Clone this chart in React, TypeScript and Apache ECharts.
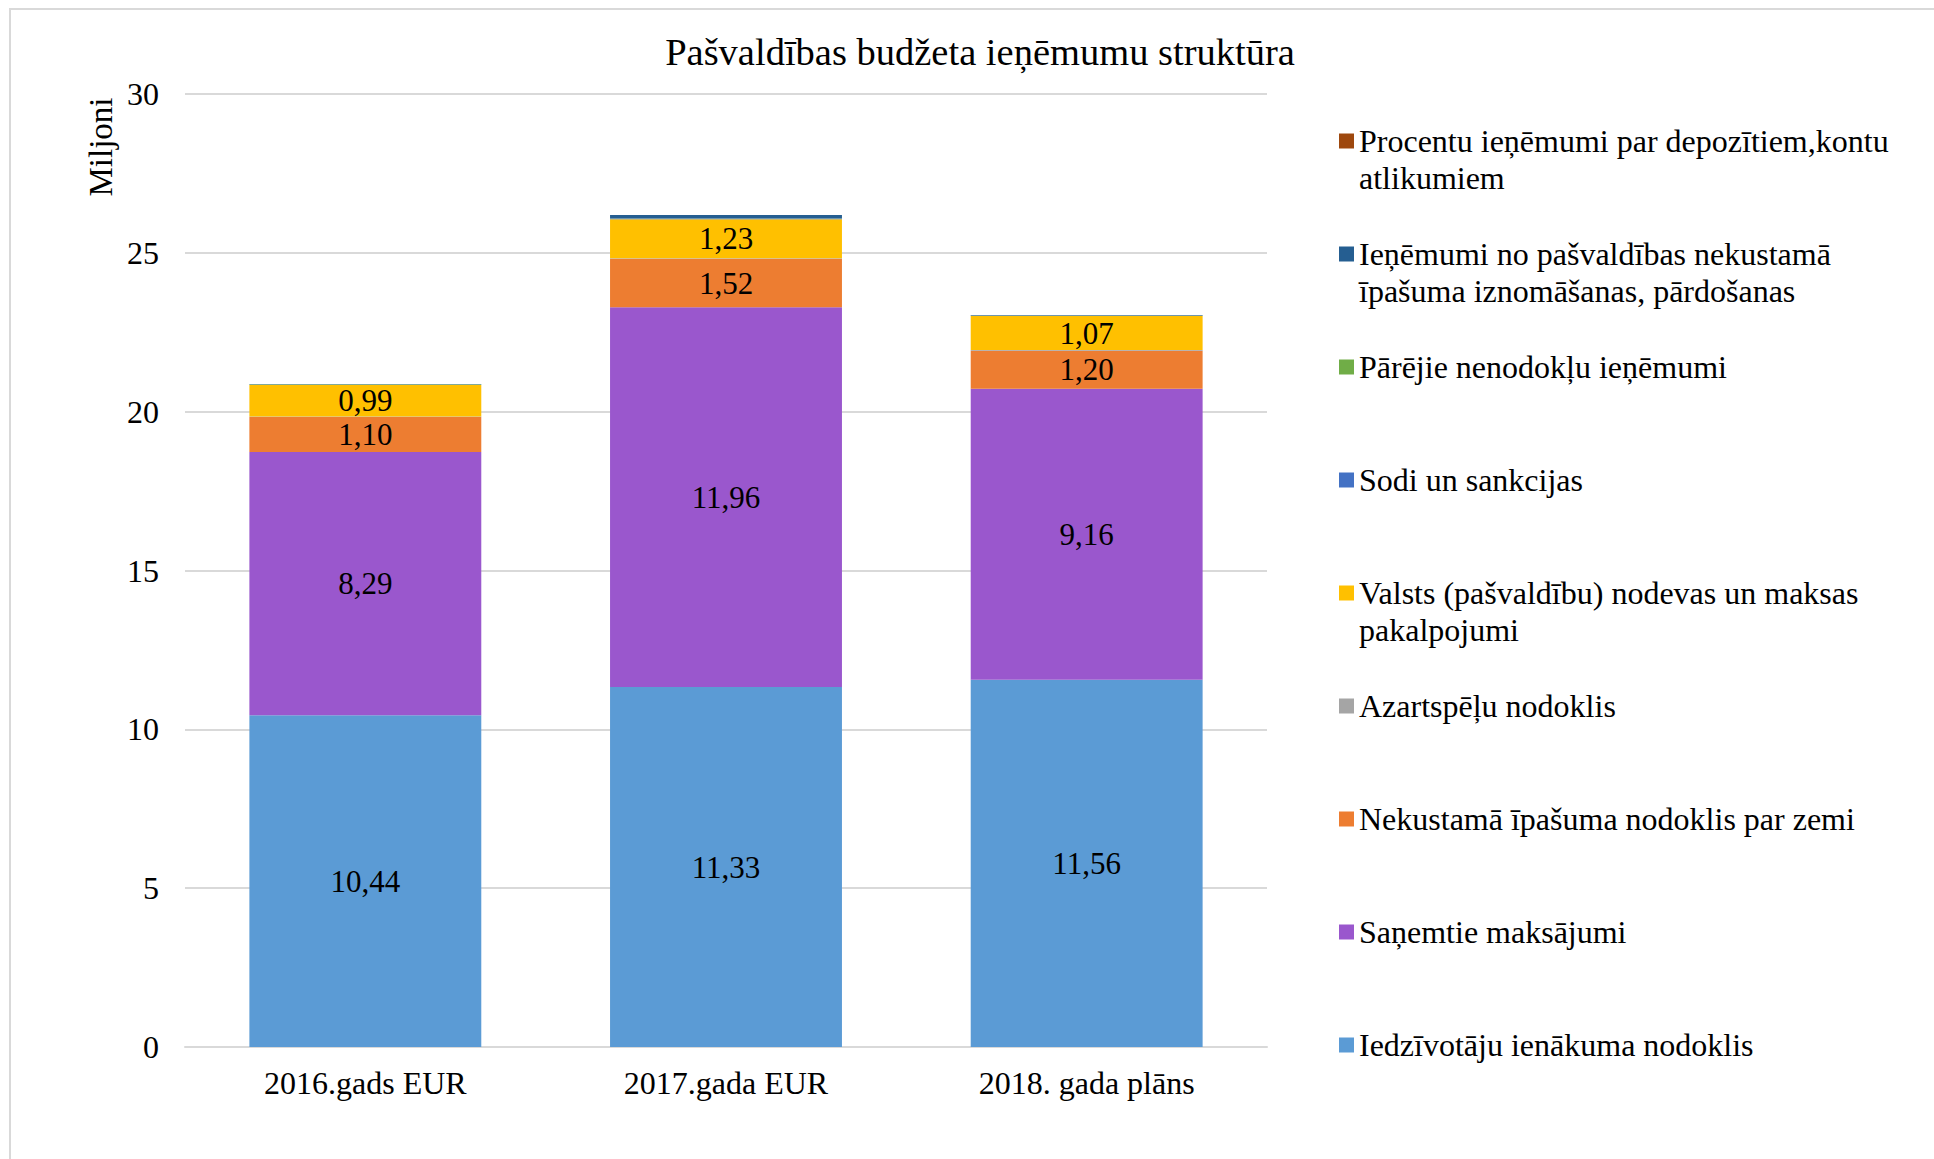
import React, { useEffect, useRef } from "react";
import * as echarts from "echarts";

const categories = ["2016.gads EUR", "2017.gada EUR", "2018. gada plāns"];

const seriesNames = [
  "Iedzīvotāju ienākuma nodoklis",
  "Saņemtie maksājumi",
  "Nekustamā īpašuma nodoklis par zemi",
  "Azartspēļu nodoklis",
  "Valsts (pašvaldību) nodevas un maksas pakalpojumi",
  "Sodi un sankcijas",
  "Pārējie nenodokļu ieņēmumi",
  "Ieņēmumi no pašvaldības nekustamā īpašuma iznomāšanas, pārdošanas",
  "Procentu ieņēmumi par depozītiem,kontu atlikumiem",
];

const iedzivotaju = [10.44, 11.33, 11.56];
const sanemtie = [8.29, 11.96, 9.16];
const nekustama = [1.1, 1.52, 1.2];
const azartspelu = [0.02, 0.02, 0.02];
const valsts = [0.99, 1.23, 1.07];
const sodi = [0.01, 0.01, 0.01];
const parejie = [0.01, 0.01, 0.01];
const ienemumiNo = [0.01, 0.11, 0.01];
const procentu = [0, 0, 0];

const seriesValues = [iedzivotaju, sanemtie, nekustama, azartspelu, valsts, sodi, parejie, ienemumiNo, procentu];
const seriesColors = ["#5B9BD5", "#9A57CD", "#ED7D31", "#A5A5A5", "#FFC000", "#4472C4", "#70AD47", "#255E91", "#9E480E"];
const labelled = [true, true, true, false, true, false, false, false, false];

// legend text lines (top to bottom order of legend = reversed series order)
const legendLines: Record<string, string[]> = {
  "Procentu ieņēmumi par depozītiem,kontu atlikumiem": ["Procentu ieņēmumi par depozītiem,kontu", "atlikumiem"],
  "Ieņēmumi no pašvaldības nekustamā īpašuma iznomāšanas, pārdošanas": ["Ieņēmumi no pašvaldības nekustamā", "īpašuma iznomāšanas, pārdošanas"],
  "Pārējie nenodokļu ieņēmumi": ["Pārējie nenodokļu ieņēmumi"],
  "Sodi un sankcijas": ["Sodi un sankcijas"],
  "Valsts (pašvaldību) nodevas un maksas pakalpojumi": ["Valsts (pašvaldību) nodevas un maksas", "pakalpojumi"],
  "Azartspēļu nodoklis": ["Azartspēļu nodoklis"],
  "Nekustamā īpašuma nodoklis par zemi": ["Nekustamā īpašuma nodoklis par zemi"],
  "Saņemtie maksājumi": ["Saņemtie maksājumi"],
  "Iedzīvotāju ienākuma nodoklis": ["Iedzīvotāju ienākuma nodoklis"],
};

const FONT = "'Liberation Serif', 'Times New Roman', serif";

export default function App() {
  const ref = useRef<HTMLDivElement>(null);

  useEffect(() => {
    if (!ref.current) return;
    const chart = echarts.init(ref.current, undefined, { renderer: "svg" });

    const legendOrder = [...seriesNames].reverse();
    const legendTop0 = 141;
    const legendStep = 113;
    const lineH = 37;

    const legends = legendOrder.map((name, i) => ({
      data: [name],
      left: 1339,
      top: legendTop0 + i * legendStep - lineH / 2,
      padding: 0,
      itemWidth: 15,
      itemHeight: 15,
      icon: "rect",
      selectedMode: false,
      formatter: (n: string) => legendLines[n][0],
      textStyle: { fontFamily: FONT, fontSize: 32, color: "#000", lineHeight: lineH },
    }));

    const graphics: any[] = [
      {
        type: "rect",
        shape: { x: 10, y: 9, width: 2000, height: 1300 },
        style: { fill: "none", stroke: "#D9D9D9", lineWidth: 2 },
        silent: true,
        z: -10,
      },
      {
        type: "text",
        x: 101,
        y: 147,
        rotation: Math.PI / 2,
        style: {
          text: "Miljoni",
          fontFamily: FONT,
          fontSize: 33,
          fill: "#000",
          align: "center",
          verticalAlign: "middle",
        },
      },
    ];
    legendOrder.forEach((name, i) => {
      const lines = legendLines[name];
      if (lines.length > 1) {
        graphics.push({
          type: "text",
          x: 1359,
          y: legendTop0 + i * legendStep + lineH,
          style: {
            text: lines[1],
            fontFamily: FONT,
            fontSize: 32,
            fill: "#000",
            align: "left",
            verticalAlign: "middle",
          },
        });
      }
    });

    chart.setOption({
      animation: false,
      backgroundColor: "#fff",
      textStyle: { fontFamily: FONT },
      title: {
        text: "Pašvaldības budžeta ieņēmumu struktūra",
        left: 980,
        textAlign: "center",
        top: 32,
        padding: 0,
        textStyle: { fontFamily: FONT, fontSize: 38.5, fontWeight: "normal", color: "#000" },
      },
      legend: legends,
      graphic: graphics,
      grid: { left: 185, top: 94, width: 1082, height: 953, containLabel: false },
      xAxis: {
        type: "category",
        data: categories,
        axisTick: { show: false },
        axisLine: { lineStyle: { color: "#D9D9D9", width: 2 } },
        axisLabel: { fontFamily: FONT, fontSize: 32, color: "#000", margin: 20 },
      },
      yAxis: {
        type: "value",
        min: 0,
        max: 30,
        interval: 5,
        axisLine: { show: false },
        axisTick: { show: false },
        splitLine: { lineStyle: { color: "#D9D9D9", width: 2 } },
        axisLabel: { fontFamily: FONT, fontSize: 32, color: "#000", margin: 26 },
      },
      series: seriesNames.map((name, i) => ({
        name,
        type: "bar",
        stack: "total",
        barWidth: "64.3%",
        data: seriesValues[i],
        itemStyle: { color: seriesColors[i] },
        label: {
          show: labelled[i],
          position: "inside",
          fontFamily: FONT,
          fontSize: 31,
          color: "#000",
          formatter: (p: any) => Number(p.value).toFixed(2).replace(".", ","),
        },
      })),
    });

    return () => chart.dispose();
  }, []);

  return (
    <div
      ref={ref}
      style={{ position: "fixed", left: 0, top: 0, width: 1934, height: 1159 }}
    />
  );
}
